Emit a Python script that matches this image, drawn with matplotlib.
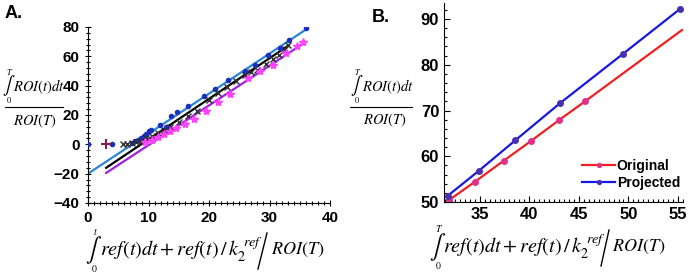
import numpy as np
import matplotlib
matplotlib.use("Agg")
import matplotlib.pyplot as plt
from matplotlib.ticker import MultipleLocator
from matplotlib.lines import Line2D

plt.rcParams['font.family'] = ['Liberation Sans', 'DejaVu Sans']
plt.rcParams['mathtext.fontset'] = 'stix'

# panel A: three tissue regions, points + fitted lines
blue_x = [0, 4, 7.2, 7.8, 8.3, 8.8, 9.2, 9.6, 10.0, 10.4, 11.9, 12.9, 13.8, 14.7, 16.6,
          19.2, 21.0, 23.2, 26.0, 27.6, 29.8, 31.7, 33.3, 36.1]
blue_y = [0, 0, 1, 2, 3, 4, 6, 7, 9, 10, 13.5, 12, 19, 22, 26,
          33, 38, 44, 50, 54, 61, 66, 71, 79]
blue_fit_x = [0, 36.1]
blue_fit_y = [-20, 78.5]

black_x = [5.8, 6.5, 7.2, 8.0, 8.8, 9.6, 10.5, 11.5, 12.5, 13.5, 15.0, 16.5, 18.0, 20.0,
           21.5, 23.0, 24.5, 26.0, 27.0, 28.0, 29.5, 30.5, 31.5, 32.5, 33.0]
black_y = [0, 0, 1, 1.5, 2.5, 4, 6, 8, 9.5, 12, 15, 19, 23, 30,
           35, 39, 43, 47, 49, 51, 55, 58, 61, 65, 68]
first_x = [3]
first_y = [0]
black_fit_x = [3, 33]
black_fit_y = [-16, 67]

mag_x = [9.5, 10.5, 11.5, 12.5, 13.5, 14.5, 16.0, 17.5, 19.5, 21.5, 23.5, 26.5,
         28.4, 30.6, 32.8, 34.5, 35.5]
mag_y = [1.5, 3, 5, 7, 9, 11, 14, 17, 23, 29, 34, 45, 50, 54, 62, 67, 70]
mag_fit_x = [3, 35.5]
mag_fit_y = [-19.5, 68.5]

# panel B: original vs projected
orig_x = [31.9, 34.5, 37.4, 40.15, 43.0, 45.65, 55.4]
orig_y = [50.4, 54.4, 59.0, 63.3, 67.9, 72.05, 87.6]
proj_x = [31.8, 34.9, 38.6, 43.1, 49.4, 55.2]
proj_y = [51.4, 56.8, 63.5, 71.6, 82.3, 92.2]

W, H = 689, 277
fig = plt.figure(figsize=(6.89, 2.77), dpi=100)


def px(x, y):
    return x / W, 1 - y / H


def integral(x, y, size, top, bot, lsize):
    fig.text(*px(x, y), r'$\int$', fontsize=size, ha='center', va='center')
    fig.text(*px(x + 1, y - size * 1.1), '$' + top + '$', fontsize=lsize, ha='center', va='center')
    fig.text(*px(x, y + size * 1.1), '$' + bot + '$', fontsize=lsize, ha='center', va='center')


def ylabel(x_int, x_txt, y_num, line_x0, line_x1, line_y, x_den, y_den):
    integral(x_int, y_num - 1, 13, 'T', '0', 6)
    fig.text(*px(x_txt, y_num), r'$ROI(t)dt$', fontsize=10.5, ha='left', va='center')
    fig.add_artist(Line2D([line_x0 / W, line_x1 / W], [1 - line_y / H] * 2, color='black', lw=0.8))
    fig.text(*px(x_den, y_den), r'$ROI(T)$', fontsize=10.5, ha='center', va='center')


def xlabel(x_int, x_txt, y, slash_x0, slash_x1, x_roi, top):
    integral(x_int, y, 17, top, '0', 7)
    fig.text(*px(x_txt, y), r'$ref(t)dt + ref(t)\,/\,k_2^{\ ref}$', fontsize=14.5,
             ha='left', va='center')
    fig.add_artist(Line2D([slash_x0 / W, slash_x1 / W], [1 - (y + 19) / H, 1 - (y - 17) / H],
                          color='black', lw=1.0))
    fig.text(*px(x_roi, y), r'$ROI(T)$', fontsize=13, ha='left', va='center')


# ---- A ----
axA = fig.add_axes([88/W, 1-203/H, 242/W, 176/H])
axA.plot(blue_fit_x, blue_fit_y, color='#2a86d8', lw=1.6, zorder=2)
axA.plot(black_fit_x, black_fit_y, color='black', lw=1.6, zorder=2)
axA.plot(mag_fit_x, mag_fit_y, color='#a020e0', lw=1.6, zorder=2)
axA.plot(blue_x, blue_y, 'o', color='#1c2fc0', ms=3, zorder=3)
axA.plot(black_x, black_y, 'x', color='#303030', ms=4, mew=1, zorder=3)
axA.plot(first_x, first_y, '+', color='#80204a', ms=7, mew=1.5, zorder=3)
axA.plot(mag_x, mag_y, '*', color='#ff40ff', ms=6, zorder=3)
axA.set_xlim(0, 40)
axA.set_ylim(-40, 80)
axA.xaxis.set_major_locator(MultipleLocator(10))
axA.xaxis.set_minor_locator(MultipleLocator(1))
axA.yaxis.set_major_locator(MultipleLocator(20))
axA.yaxis.set_minor_locator(MultipleLocator(4))
for s in ['top', 'right']:
    axA.spines[s].set_visible(False)
axA.tick_params(which='both', direction='inout', labelsize=11, width=0.8)
axA.tick_params(which='major', length=5)
axA.tick_params(which='minor', length=3)
for lab in axA.get_xticklabels() + axA.get_yticklabels():
    lab.set_fontweight('bold')
ylabel(9, 13, 87, 5, 63, 107, 35, 121)
xlabel(94, 100, 250, 258, 267, 271, 't')
fig.text(*px(5, 13), 'A.', fontsize=13, fontweight='bold', va='center')

# ---- B ----
axB = fig.add_axes([444/W, 1-202/H, 239/W, 199/H])
axB.plot(orig_x, orig_y, '-o', color='#f02020', mfc='#e0308a', mec='#e0308a', ms=4, lw=1.6,
         markevery=list(range(len(orig_x) - 1)), label='Original')
axB.plot(proj_x, proj_y, '-o', color='#1818e0', mfc='#4a30b0', mec='#4a30b0', ms=4, lw=1.6,
         label='Projected')
axB.set_xlim(31.4, 55.5)
axB.set_ylim(50, 93.5)
axB.xaxis.set_major_locator(MultipleLocator(5))
axB.xaxis.set_minor_locator(MultipleLocator(0.5))
axB.yaxis.set_major_locator(MultipleLocator(10))
axB.yaxis.set_minor_locator(MultipleLocator(2))
for s in ['top', 'right']:
    axB.spines[s].set_visible(False)
axB.tick_params(which='both', direction='in', labelsize=12, width=0.8)
axB.tick_params(which='major', length=4)
axB.tick_params(which='minor', length=2)
for lab in axB.get_xticklabels() + axB.get_yticklabels():
    lab.set_fontweight('bold')
leg = axB.legend(loc='lower left', frameon=False, prop={'weight': 'bold', 'size': 10},
                 handlelength=2.4, handletextpad=0.1, borderaxespad=0.0, borderpad=0.0,
                 labelspacing=0.25, markerscale=0.7,
                 bbox_to_anchor=((582 - 444) / 239, (202 - 190) / 199))
ylabel(357, 362, 87, 350, 412, 107, 385, 120)
xlabel(438, 443, 247, 601, 609, 612, 'T')
fig.text(*px(372, 17), 'B.', fontsize=13, fontweight='bold', va='center')

fig.savefig('out.png', dpi=100)
